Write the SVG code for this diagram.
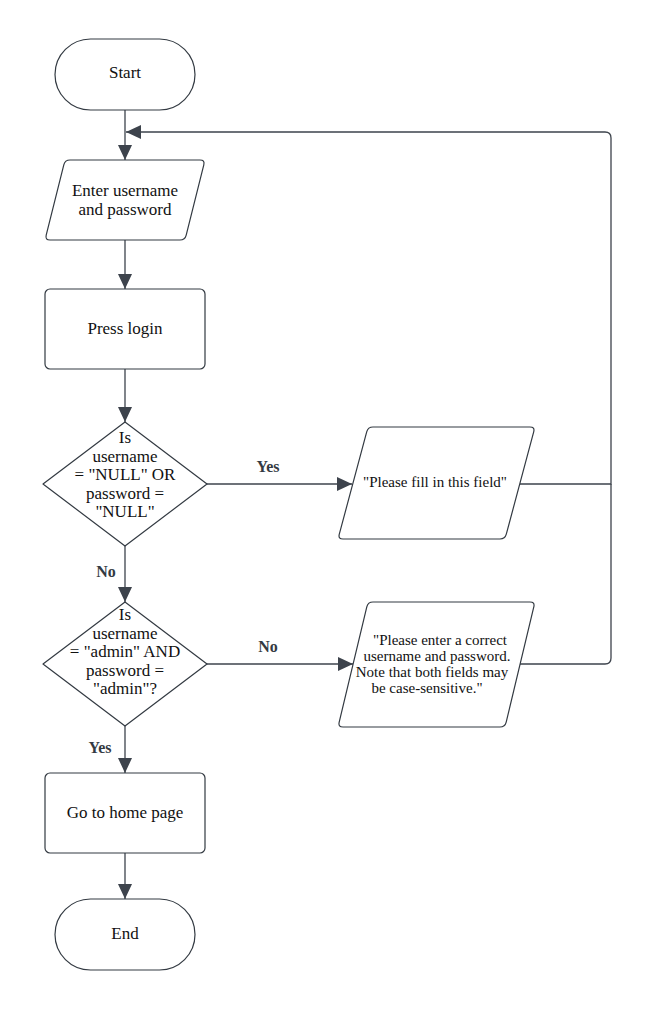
<svg xmlns="http://www.w3.org/2000/svg" width="651" height="1010" viewBox="0 0 651 1010">
<style>
.shape{fill:#ffffff;stroke:#333a42;stroke-width:1.2;stroke-linejoin:round}
.conn{fill:none;stroke:#3d434c;stroke-width:1.3}
.t{font-family:"Liberation Serif","Times New Roman",serif;font-size:17px;fill:#111;text-anchor:middle}
.s{font-size:15px}
.lbl{font-family:"Liberation Serif","Times New Roman",serif;font-size:16px;font-weight:bold;fill:#333a42;text-anchor:middle}
</style>
<defs>
<marker id="arr" markerUnits="userSpaceOnUse" markerWidth="16" markerHeight="15" refX="15" refY="7" orient="auto">
<path d="M0,0 L15,7 L0,14 Z" fill="#3d434c"/>
</marker>
</defs>
<rect width="651" height="1010" fill="#ffffff"/>
<g id="connectors">
<line class="conn" x1="125" y1="110" x2="125" y2="160" marker-end="url(#arr)"/>
<line class="conn" x1="125" y1="240" x2="125" y2="289" marker-end="url(#arr)"/>
<line class="conn" x1="125" y1="369" x2="125" y2="422" marker-end="url(#arr)"/>
<line class="conn" x1="207" y1="484" x2="352" y2="484" marker-end="url(#arr)"/>
<line class="conn" x1="125" y1="546" x2="125" y2="602" marker-end="url(#arr)"/>
<line class="conn" x1="207" y1="664" x2="353" y2="664" marker-end="url(#arr)"/>
<line class="conn" x1="125" y1="726" x2="125" y2="773" marker-end="url(#arr)"/>
<line class="conn" x1="125" y1="853" x2="125" y2="899" marker-end="url(#arr)"/>
<path class="conn" d="M520,484 H611 V138 Q611,132 605,132 H126" marker-end="url(#arr)"/>
<path class="conn" d="M520,664 H605 Q611,664 611,658 V484"/>
<text class="lbl" x="268" y="472">Yes</text>
<text class="lbl" x="106" y="577">No</text>
<text class="lbl" x="268" y="652">No</text>
<text class="lbl" x="100" y="753">Yes</text>
</g>
<g id="start">
<rect class="shape" x="55" y="39" width="140" height="71" rx="35.5"/>
<text class="t" x="125" y="78">Start</text>
</g>
<g id="enter">
<path class="shape" d="M70,160 H200 Q205,160 203.8,164.9 L186.2,235.1 Q185,240 180,240 H50 Q45,240 46.2,235.1 L63.8,164.9 Q65,160 70,160 Z"/>
<text class="t" x="125" y="196">Enter username</text>
<text class="t" x="125" y="215">and password</text>
</g>
<g id="press">
<rect class="shape" x="45" y="289" width="160" height="80" rx="5"/>
<text class="t" x="125" y="334">Press login</text>
</g>
<g id="check-null">
<path class="shape" d="M125,422 L207,484 L125,546 L43,484 Z"/>
<text class="t" x="125" y="443">Is</text>
<text class="t" x="125" y="461.5">username</text>
<text class="t" x="125" y="480">= "NULL" OR</text>
<text class="t" x="125" y="498.5">password =</text>
<text class="t" x="125" y="517">"NULL"</text>
</g>
<g id="fill-msg">
<path class="shape" d="M373,427 H530 Q535,427 533.7,431.8 L506.3,534.2 Q505,539 500,539 H343 Q338,539 339.3,534.2 L366.7,431.8 Q368,427 373,427 Z"/>
<text class="t s" x="435" y="487">"Please fill in this field"</text>
</g>
<g id="check-admin">
<path class="shape" d="M125,602 L207,664 L125,726 L43,664 Z"/>
<text class="t" x="125" y="620">Is</text>
<text class="t" x="125" y="638.5">username</text>
<text class="t" x="125" y="657">= "admin" AND</text>
<text class="t" x="125" y="675.5">password =</text>
<text class="t" x="125" y="694">"admin"?</text>
</g>
<g id="error-msg">
<path class="shape" d="M373,602 H530 Q535,602 533.8,606.9 L506.2,722.1 Q505,727 500,727 H343 Q338,727 339.2,722.1 L366.8,606.9 Q368,602 373,602 Z"/>
<text class="t s" x="440" y="645">"Please enter a correct</text>
<text class="t s" x="437" y="661">username and password.</text>
<text class="t s" x="432" y="677">Note that both fields may</text>
<text class="t s" x="427" y="693">be case-sensitive."</text>
</g>
<g id="home">
<rect class="shape" x="45" y="773" width="160" height="80" rx="5"/>
<text class="t" x="125" y="818">Go to home page</text>
</g>
<g id="end">
<rect class="shape" x="55" y="899" width="140" height="71" rx="35.5"/>
<text class="t" x="125" y="939">End</text>
</g>
</svg>
